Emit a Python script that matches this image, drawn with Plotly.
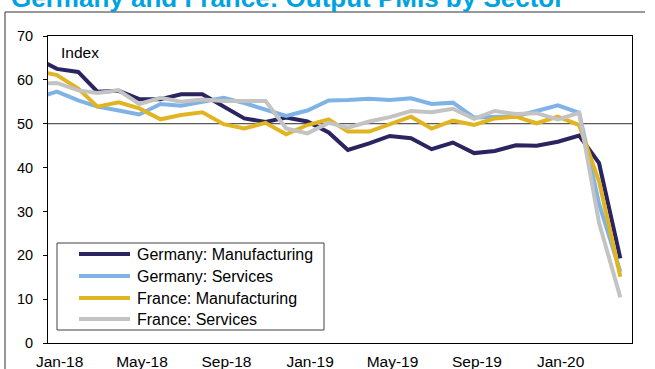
import pandas as pd
import plotly.graph_objects as go

# Monthly output PMIs, Dec-17 .. Apr-20
months = pd.date_range("2017-12-01", "2020-04-01", freq="MS")

germany_mfg = [65.0, 62.5, 61.8, 57.3, 57.5, 55.6, 55.6, 56.7, 56.7, 54.0, 51.2, 50.4, 51.4,
               50.5, 48.0, 44.0, 45.5, 47.2, 46.7, 44.2, 45.7, 43.3, 43.8, 45.1, 45.0,
               45.9, 47.3, 41.0, 19.3]
germany_svc = [55.8, 57.3, 55.3, 53.9, 53.0, 52.1, 54.5, 54.1, 55.0, 55.9, 54.7, 53.3, 51.8,
               53.0, 55.3, 55.4, 55.7, 55.4, 55.8, 54.5, 54.8, 51.4, 51.6, 51.7, 52.9,
               54.2, 52.5, 31.7, 16.2]
france_mfg = [62.1, 61.1, 58.0, 53.9, 54.9, 53.5, 51.0, 52.0, 52.6, 49.9, 48.9, 50.2, 47.6,
              49.7, 51.0, 48.2, 48.2, 49.9, 51.6, 48.9, 50.7, 49.7, 51.2, 51.6, 50.1,
              51.6, 49.7, 36.8, 15.1]
france_svc = [59.1, 59.3, 57.6, 57.0, 57.6, 54.5, 55.9, 55.0, 55.5, 55.2, 55.2, 55.2, 48.9,
              47.8, 50.2, 49.1, 50.5, 51.5, 52.9, 52.6, 53.4, 51.1, 52.9, 52.2, 52.4,
              51.0, 52.5, 27.4, 10.4]

series_names = ["Germany: Manufacturing", "Germany: Services",
                "France: Manufacturing", "France: Services"]
series_colors = ["#2A2560", "#7FB3E6", "#E1B521", "#C3C3C3"]

tick_dates = ["2018-01-01", "2018-05-01", "2018-09-01", "2019-01-01",
              "2019-05-01", "2019-09-01", "2020-01-01"]
tick_labels = ["Jan-18", "May-18", "Sep-18", "Jan-19", "May-19", "Sep-19", "Jan-20"]

FONT = "Arial, 'Liberation Sans', sans-serif"

# plot-area geometry in pixels (figure is 655 x 369)
W, H = 655, 369
L, R, T, B = 48, 23, 36, 26
PW, PH = W - L - R, H - T - B


def px_x(px):
    return (px - L) / PW


def px_y(py):
    return (H - B - py) / PH


fig = go.Figure()
for name, vals, col in zip(series_names,
                           [germany_mfg, germany_svc, france_mfg, france_svc],
                           series_colors):
    fig.add_trace(go.Scatter(x=months, y=vals, mode="lines", name=name,
                             line=dict(color=col, width=4), showlegend=False))

# tick labels sit a touch to the right of the month start
tick_pos = [pd.Timestamp(d) + pd.Timedelta(days=4) for d in tick_dates]

fig.update_layout(
    width=W, height=H,
    margin=dict(l=L, r=R, t=T, b=B),
    paper_bgcolor="white", plot_bgcolor="white",
    font=dict(family=FONT, size=15.5, color="black"),
    xaxis=dict(type="date", range=["2017-12-19", "2020-04-18"],
               tickvals=tick_pos, ticktext=tick_labels, ticks="",
               ticklabelstandoff=4, automargin=False,
               showgrid=False, zeroline=False, showline=True,
               linecolor="black", linewidth=1, mirror=True,
               tickfont=dict(size=15.5, color="black")),
    yaxis=dict(range=[0, 70], dtick=10, ticks="outside", ticklen=4,
               tickcolor="black", ticklabelstandoff=7, automargin=False,
               showgrid=False, zeroline=False,
               showline=True, linecolor="black", linewidth=1, mirror=True,
               tickfont=dict(size=14.5, color="black")),
)

# reference line at 50
fig.add_shape(type="line", xref="paper", yref="y", x0=0, x1=1, y0=50, y1=50,
              line=dict(color="#303030", width=1), layer="below")

# outer frame (top and left edges)
fig.add_shape(type="line", xref="paper", yref="paper", x0=px_x(5), x1=px_x(645),
              y0=px_y(12), y1=px_y(12), line=dict(color="#333333", width=1))
fig.add_shape(type="line", xref="paper", yref="paper", x0=px_x(5), x1=px_x(5),
              y0=px_y(12), y1=px_y(380), line=dict(color="#333333", width=1))

# legend box with long line samples
fig.add_shape(type="rect", xref="paper", yref="paper",
              x0=px_x(57), x1=px_x(324), y0=px_y(330), y1=px_y(243),
              line=dict(color="#404040", width=1), fillcolor="white")
row_y = [254, 276, 298, 319]
for name, col, ry in zip(series_names, series_colors, row_y):
    fig.add_shape(type="line", xref="paper", yref="paper",
                  x0=px_x(79), x1=px_x(130), y0=px_y(ry), y1=px_y(ry),
                  line=dict(color=col, width=4))
    fig.add_annotation(text=name, xref="paper", yref="paper",
                       x=px_x(135), y=px_y(ry), xanchor="left", yanchor="middle",
                       showarrow=False, font=dict(size=16, color="black"))

fig.add_annotation(text="Index", xref="paper", yref="paper", x=px_x(59), y=px_y(52),
                   xanchor="left", yanchor="middle", showarrow=False,
                   font=dict(size=15.5, color="black"))

fig.add_annotation(text="<b>Germany and France: Output PMIs by Sector</b>",
                   xref="paper", yref="paper", x=px_x(10), y=px_y(8),
                   xanchor="left", yanchor="bottom", showarrow=False,
                   borderpad=0, yshift=-6,
                   font=dict(size=26, color="#00A3E0", family=FONT))

fig.write_html("out.html")
